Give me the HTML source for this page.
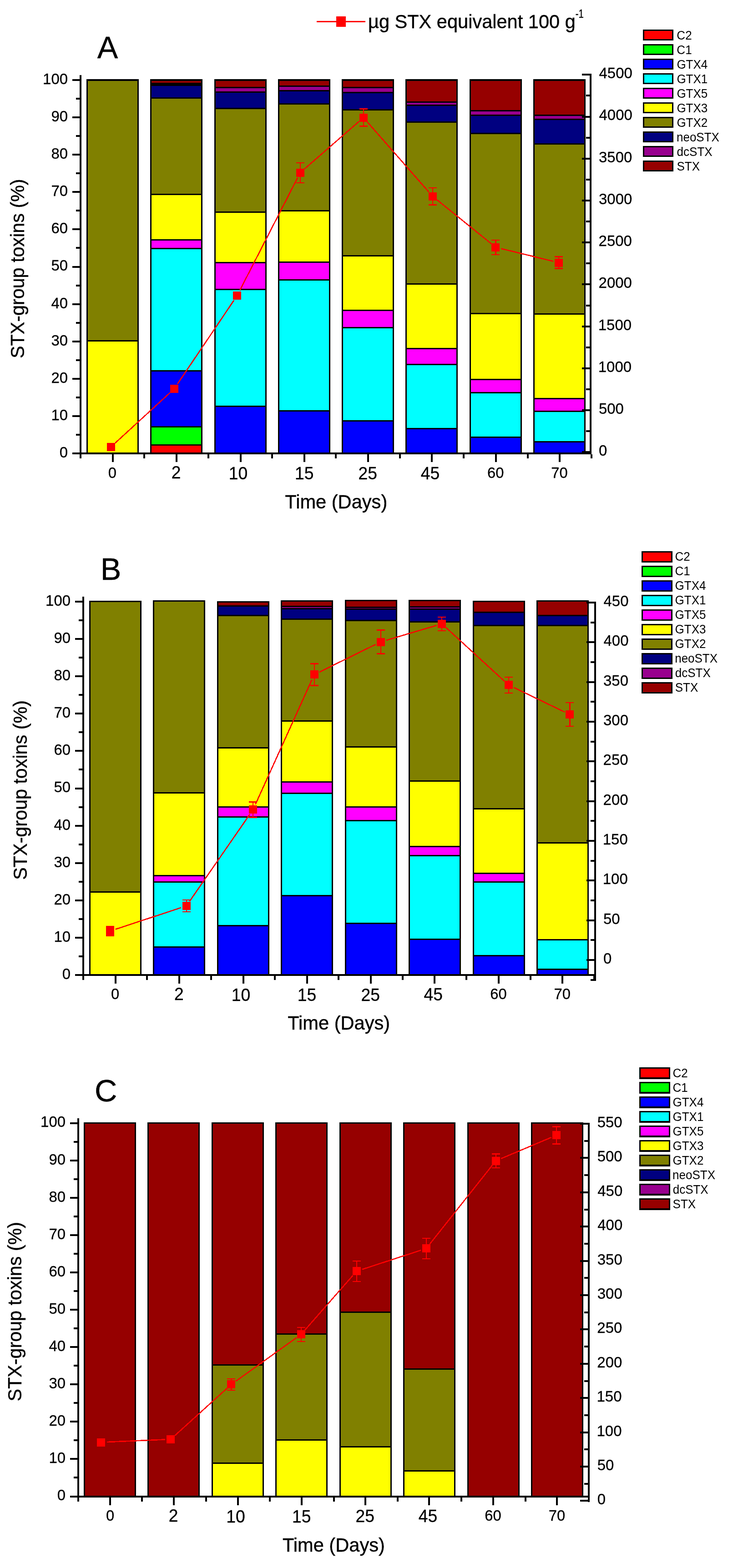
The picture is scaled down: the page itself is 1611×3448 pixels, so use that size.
<!DOCTYPE html>
<html lang="en">
<head>
<meta charset="utf-8">
<title>STX-group toxins</title>
<style>
html,body{margin:0;padding:0;background:#fff;}
body{width:1611px;height:3448px;overflow:hidden;}
svg{display:block;}
svg text{font-family:"Liberation Sans",Arial,sans-serif;fill:#000;}
svg rect,svg line{shape-rendering:crispEdges;}
</style>
</head>
<body>
<svg width="1611" height="3448" viewBox="0 0 1611 3448">
<rect x="0" y="0" width="1611" height="3448" fill="#ffffff"/>
<rect x="190" y="174" width="115" height="823" fill="#000"/>
<rect x="193" y="750.9" width="109" height="244.1" fill="#ffff00"/>
<rect x="193" y="178" width="109" height="569.9" fill="#808000"/>
<rect x="330" y="174" width="115" height="823" fill="#000"/>
<rect x="333" y="980.2" width="109" height="14.8" fill="#ff0000"/>
<rect x="333" y="940.3" width="109" height="36.9" fill="#00ff00"/>
<rect x="333" y="817.2" width="109" height="120.1" fill="#0000ff"/>
<rect x="333" y="547.7" width="109" height="266.5" fill="#00ffff"/>
<rect x="333" y="528.7" width="109" height="16" fill="#ff00ff"/>
<rect x="333" y="428.6" width="109" height="97.1" fill="#ffff00"/>
<rect x="333" y="216.8" width="109" height="208.8" fill="#808000"/>
<rect x="333" y="188.9" width="109" height="24.9" fill="#000080"/>
<rect x="333" y="178" width="109" height="4" fill="#960000"/>
<rect x="471" y="174" width="115" height="823" fill="#000"/>
<rect x="474" y="894.5" width="109" height="100.5" fill="#0000ff"/>
<rect x="474" y="637.8" width="109" height="253.7" fill="#00ffff"/>
<rect x="474" y="579.1" width="109" height="55.7" fill="#ff00ff"/>
<rect x="474" y="467.5" width="109" height="108.6" fill="#ffff00"/>
<rect x="474" y="239.7" width="109" height="224.8" fill="#808000"/>
<rect x="474" y="204.3" width="109" height="32.4" fill="#000080"/>
<rect x="474" y="194.4" width="109" height="6.9" fill="#98008e"/>
<rect x="474" y="178" width="109" height="13.4" fill="#960000"/>
<rect x="611" y="174" width="115" height="823" fill="#000"/>
<rect x="614" y="904.5" width="109" height="90.5" fill="#0000ff"/>
<rect x="614" y="617.4" width="109" height="284.1" fill="#00ffff"/>
<rect x="614" y="577.5" width="109" height="36.9" fill="#ff00ff"/>
<rect x="614" y="464.5" width="109" height="110" fill="#ffff00"/>
<rect x="614" y="229.7" width="109" height="231.8" fill="#808000"/>
<rect x="614" y="200.9" width="109" height="25.8" fill="#000080"/>
<rect x="614" y="190.7" width="109" height="7.2" fill="#98008e"/>
<rect x="614" y="178" width="109" height="9.7" fill="#960000"/>
<rect x="751" y="174" width="115" height="823" fill="#000"/>
<rect x="754" y="926.8" width="109" height="68.2" fill="#0000ff"/>
<rect x="754" y="722" width="109" height="201.8" fill="#00ffff"/>
<rect x="754" y="683.7" width="109" height="35.3" fill="#ff00ff"/>
<rect x="754" y="563.6" width="109" height="117.1" fill="#ffff00"/>
<rect x="754" y="242.7" width="109" height="317.9" fill="#808000"/>
<rect x="754" y="205.3" width="109" height="34.4" fill="#000080"/>
<rect x="754" y="194.4" width="109" height="7.9" fill="#98008e"/>
<rect x="754" y="178" width="109" height="13.4" fill="#960000"/>
<rect x="891" y="174" width="115" height="823" fill="#000"/>
<rect x="894" y="944.3" width="109" height="50.7" fill="#0000ff"/>
<rect x="894" y="802.8" width="109" height="138.5" fill="#00ffff"/>
<rect x="894" y="767.9" width="109" height="31.9" fill="#ff00ff"/>
<rect x="894" y="625.9" width="109" height="139" fill="#ffff00"/>
<rect x="894" y="269.6" width="109" height="353.3" fill="#808000"/>
<rect x="894" y="232.7" width="109" height="33.9" fill="#000080"/>
<rect x="894" y="226.3" width="109" height="3.4" fill="#98008e"/>
<rect x="894" y="178" width="109" height="45.3" fill="#960000"/>
<rect x="1032" y="174" width="115" height="823" fill="#000"/>
<rect x="1035" y="963.2" width="109" height="31.8" fill="#0000ff"/>
<rect x="1035" y="864.5" width="109" height="95.7" fill="#00ffff"/>
<rect x="1035" y="836.1" width="109" height="25.4" fill="#ff00ff"/>
<rect x="1035" y="690.6" width="109" height="142.5" fill="#ffff00"/>
<rect x="1035" y="295" width="109" height="392.6" fill="#808000"/>
<rect x="1035" y="254.7" width="109" height="37.3" fill="#000080"/>
<rect x="1035" y="244.7" width="109" height="7" fill="#98008e"/>
<rect x="1035" y="178" width="109" height="63.7" fill="#960000"/>
<rect x="1172" y="174" width="115" height="823" fill="#000"/>
<rect x="1175" y="973.2" width="109" height="21.8" fill="#0000ff"/>
<rect x="1175" y="906.4" width="109" height="63.8" fill="#00ffff"/>
<rect x="1175" y="877.5" width="109" height="25.9" fill="#ff00ff"/>
<rect x="1175" y="692.1" width="109" height="182.4" fill="#ffff00"/>
<rect x="1175" y="318.4" width="109" height="370.7" fill="#808000"/>
<rect x="1175" y="263.6" width="109" height="51.8" fill="#000080"/>
<rect x="1175" y="254.7" width="109" height="5.9" fill="#98008e"/>
<rect x="1175" y="178" width="109" height="73.7" fill="#960000"/>
<rect x="175" y="165" width="4" height="842.6" fill="#000"/>
<rect x="159" y="995" width="16" height="4" fill="#000"/>
<text transform="translate(130.74 1005.90) scale(1 1.03)" font-size="33" stroke="#000" stroke-width="0.3">0</text>
<rect x="167" y="953.95" width="8" height="4" fill="#000"/>
<rect x="159" y="912.9" width="16" height="4" fill="#000"/>
<text transform="translate(112.39 923.80) scale(1 1.03)" font-size="33" stroke="#000" stroke-width="0.3">10</text>
<rect x="167" y="871.85" width="8" height="4" fill="#000"/>
<rect x="159" y="830.8" width="16" height="4" fill="#000"/>
<text transform="translate(112.39 841.70) scale(1 1.03)" font-size="33" stroke="#000" stroke-width="0.3">20</text>
<rect x="167" y="789.75" width="8" height="4" fill="#000"/>
<rect x="159" y="748.7" width="16" height="4" fill="#000"/>
<text transform="translate(112.39 759.60) scale(1 1.03)" font-size="33" stroke="#000" stroke-width="0.3">30</text>
<rect x="167" y="707.65" width="8" height="4" fill="#000"/>
<rect x="159" y="666.6" width="16" height="4" fill="#000"/>
<text transform="translate(112.39 677.50) scale(1 1.03)" font-size="33" stroke="#000" stroke-width="0.3">40</text>
<rect x="167" y="625.55" width="8" height="4" fill="#000"/>
<rect x="159" y="584.5" width="16" height="4" fill="#000"/>
<text transform="translate(112.39 595.40) scale(1 1.03)" font-size="33" stroke="#000" stroke-width="0.3">50</text>
<rect x="167" y="543.45" width="8" height="4" fill="#000"/>
<rect x="159" y="502.4" width="16" height="4" fill="#000"/>
<text transform="translate(112.39 513.30) scale(1 1.03)" font-size="33" stroke="#000" stroke-width="0.3">60</text>
<rect x="167" y="461.35" width="8" height="4" fill="#000"/>
<rect x="159" y="420.3" width="16" height="4" fill="#000"/>
<text transform="translate(112.39 431.20) scale(1 1.03)" font-size="33" stroke="#000" stroke-width="0.3">70</text>
<rect x="167" y="379.25" width="8" height="4" fill="#000"/>
<rect x="159" y="338.2" width="16" height="4" fill="#000"/>
<text transform="translate(112.39 349.10) scale(1 1.03)" font-size="33" stroke="#000" stroke-width="0.3">80</text>
<rect x="167" y="297.15" width="8" height="4" fill="#000"/>
<rect x="159" y="256.1" width="16" height="4" fill="#000"/>
<text transform="translate(112.39 267.00) scale(1 1.03)" font-size="33" stroke="#000" stroke-width="0.3">90</text>
<rect x="167" y="215.05" width="8" height="4" fill="#000"/>
<rect x="159" y="174" width="16" height="4" fill="#000"/>
<text transform="translate(94.04 184.90) scale(1 1.03)" font-size="33" stroke="#000" stroke-width="0.3">100</text>
<rect x="159" y="995" width="1141" height="4" fill="#000"/>
<rect x="246" y="999" width="4" height="17" fill="#000"/>
<text transform="translate(237.68 1051.40) scale(1 1.02)" font-size="32.8" stroke="#000" stroke-width="0.3">0</text>
<rect x="386" y="999" width="4" height="17" fill="#000"/>
<text transform="translate(376.83 1052.20) scale(1 1.02)" font-size="37.3" stroke="#000" stroke-width="0.3">2</text>
<rect x="527" y="999" width="4" height="17" fill="#000"/>
<text transform="translate(502.67 1053.50) scale(1 1.02)" font-size="37.3" stroke="#000" stroke-width="0.3">10</text>
<rect x="667" y="999" width="4" height="17" fill="#000"/>
<text transform="translate(647.93 1054.40) scale(1 1.02)" font-size="37.3" stroke="#000" stroke-width="0.3">15</text>
<rect x="807" y="999" width="4" height="17" fill="#000"/>
<text transform="translate(787.46 1053.50) scale(1 1.02)" font-size="37.3" stroke="#000" stroke-width="0.3">25</text>
<rect x="947" y="999" width="4" height="17" fill="#000"/>
<text transform="translate(924.87 1053.70) scale(1 1.02)" font-size="37.3" stroke="#000" stroke-width="0.3">45</text>
<rect x="1088" y="999" width="4" height="17" fill="#000"/>
<text transform="translate(1071.02 1051.40) scale(1 1.02)" font-size="32.8" stroke="#000" stroke-width="0.3">60</text>
<rect x="1228" y="999" width="4" height="17" fill="#000"/>
<text transform="translate(1211.27 1051.40) scale(1 1.02)" font-size="32.8" stroke="#000" stroke-width="0.3">70</text>
<rect x="175" y="999" width="4" height="9" fill="#000"/>
<rect x="315" y="999" width="4" height="9" fill="#000"/>
<rect x="456" y="999" width="4" height="9" fill="#000"/>
<rect x="596" y="999" width="4" height="9" fill="#000"/>
<rect x="736" y="999" width="4" height="9" fill="#000"/>
<rect x="877" y="999" width="4" height="9" fill="#000"/>
<rect x="1017" y="999" width="4" height="9" fill="#000"/>
<rect x="1158" y="999" width="4" height="9" fill="#000"/>
<rect x="1298" y="999" width="4" height="9" fill="#000"/>
<text transform="translate(626.28 1117.80) scale(1.008 1.02)" font-size="41.3" stroke="#000" stroke-width="0.4">Time (Days)</text>
<text transform="translate(52.90 788.06) rotate(-90) scale(1 1.02)" font-size="41.3" stroke="#000" stroke-width="0.4">STX-group toxins (%)</text>
<rect x="1296" y="162" width="4" height="837" fill="#000"/>
<rect x="1279" y="992" width="17" height="4" fill="#000"/>
<text transform="translate(1315.91 1002.20) scale(1 1.03)" font-size="33" stroke="#000" stroke-width="0.3">0</text>
<rect x="1288" y="946" width="8" height="4" fill="#000"/>
<rect x="1279" y="900" width="17" height="4" fill="#000"/>
<text transform="translate(1315.88 909.98) scale(1 1.03)" font-size="33" stroke="#000" stroke-width="0.3">500</text>
<rect x="1288" y="854" width="8" height="4" fill="#000"/>
<rect x="1279" y="808" width="17" height="4" fill="#000"/>
<text transform="translate(1314.69 817.76) scale(1 1.03)" font-size="33" stroke="#000" stroke-width="0.3">1000</text>
<rect x="1288" y="762" width="8" height="4" fill="#000"/>
<rect x="1279" y="716" width="17" height="4" fill="#000"/>
<text transform="translate(1314.69 725.54) scale(1 1.03)" font-size="33" stroke="#000" stroke-width="0.3">1500</text>
<rect x="1288" y="670" width="8" height="4" fill="#000"/>
<rect x="1279" y="623" width="17" height="4" fill="#000"/>
<text transform="translate(1315.55 633.32) scale(1 1.03)" font-size="33" stroke="#000" stroke-width="0.3">2000</text>
<rect x="1288" y="577" width="8" height="4" fill="#000"/>
<rect x="1279" y="531" width="17" height="4" fill="#000"/>
<text transform="translate(1315.55 541.10) scale(1 1.03)" font-size="33" stroke="#000" stroke-width="0.3">2500</text>
<rect x="1288" y="485" width="8" height="4" fill="#000"/>
<rect x="1279" y="439" width="17" height="4" fill="#000"/>
<text transform="translate(1315.95 448.88) scale(1 1.03)" font-size="33" stroke="#000" stroke-width="0.3">3000</text>
<rect x="1288" y="393" width="8" height="4" fill="#000"/>
<rect x="1279" y="347" width="17" height="4" fill="#000"/>
<text transform="translate(1315.95 356.66) scale(1 1.03)" font-size="33" stroke="#000" stroke-width="0.3">3500</text>
<rect x="1288" y="301" width="8" height="4" fill="#000"/>
<rect x="1279" y="255" width="17" height="4" fill="#000"/>
<text transform="translate(1316.44 264.44) scale(1 1.03)" font-size="33" stroke="#000" stroke-width="0.3">4000</text>
<rect x="1288" y="208" width="8" height="4" fill="#000"/>
<rect x="1279" y="162" width="17" height="4" fill="#000"/>
<text transform="translate(1316.44 172.22) scale(1 1.03)" font-size="33" stroke="#000" stroke-width="0.3">4500</text>
<line x1="253.2" y1="974.2" x2="373.6" y2="863.6" stroke="#ff0000" stroke-width="2.6"/>
<line x1="389.8" y1="844.7" x2="514.3" y2="660.2" stroke="#ff0000" stroke-width="2.6"/>
<line x1="527.0" y1="638.7" x2="654.1" y2="390.8" stroke="#ff0000" stroke-width="2.6"/>
<line x1="669.2" y1="371.5" x2="789.4" y2="266.8" stroke="#ff0000" stroke-width="2.6"/>
<line x1="807.1" y1="268.0" x2="942.5" y2="422.2" stroke="#ff0000" stroke-width="2.6"/>
<line x1="960.5" y1="439.5" x2="1079.6" y2="535.8" stroke="#ff0000" stroke-width="2.6"/>
<line x1="1101.4" y1="546.7" x2="1215.8" y2="574.6" stroke="#ff0000" stroke-width="2.6"/>
<rect x="235" y="973.7" width="18" height="18" fill="#ff0000"/>
<rect x="373.8" y="846.1" width="18" height="18" fill="#ff0000"/>
<rect x="512.3" y="640.8" width="18" height="18" fill="#ff0000"/>
<rect x="658.6" y="357.7" width="2.4" height="44" fill="#ff0000"/>
<rect x="650.8" y="356.5" width="18" height="2.4" fill="#ff0000"/>
<rect x="650.8" y="400.5" width="18" height="2.4" fill="#ff0000"/>
<rect x="650.8" y="370.7" width="18" height="18" fill="#ff0000"/>
<rect x="797.6" y="239.6" width="2.4" height="38" fill="#ff0000"/>
<rect x="789.8" y="238.4" width="18" height="2.4" fill="#ff0000"/>
<rect x="789.8" y="276.4" width="18" height="2.4" fill="#ff0000"/>
<rect x="789.8" y="249.6" width="18" height="18" fill="#ff0000"/>
<rect x="949.6" y="412.9" width="2.4" height="37.4" fill="#ff0000"/>
<rect x="941.8" y="411.7" width="18" height="2.4" fill="#ff0000"/>
<rect x="941.8" y="449.1" width="18" height="2.4" fill="#ff0000"/>
<rect x="941.8" y="422.6" width="18" height="18" fill="#ff0000"/>
<rect x="1088.1" y="527.7" width="2.4" height="32" fill="#ff0000"/>
<rect x="1080.3" y="526.5" width="18" height="2.4" fill="#ff0000"/>
<rect x="1080.3" y="558.5" width="18" height="2.4" fill="#ff0000"/>
<rect x="1080.3" y="534.7" width="18" height="18" fill="#ff0000"/>
<rect x="1226.7" y="564.6" width="2.4" height="26" fill="#ff0000"/>
<rect x="1218.9" y="563.4" width="18" height="2.4" fill="#ff0000"/>
<rect x="1218.9" y="589.4" width="18" height="2.4" fill="#ff0000"/>
<rect x="1218.9" y="568.6" width="18" height="18" fill="#ff0000"/>
<rect x="1413" y="65" width="67" height="24" fill="#000"/>
<rect x="1416" y="68" width="61" height="18" fill="#ff0000"/>
<text transform="translate(1487.37 87.20) scale(1 1.03)" font-size="26">C2</text>
<rect x="1413" y="97" width="67" height="24" fill="#000"/>
<rect x="1416" y="100" width="61" height="18" fill="#00ff00"/>
<text transform="translate(1487.37 119.20) scale(1 1.03)" font-size="26">C1</text>
<rect x="1413" y="129" width="67" height="24" fill="#000"/>
<rect x="1416" y="132" width="61" height="18" fill="#0000ff"/>
<text transform="translate(1487.40 151.20) scale(1 1.03)" font-size="26">GTX4</text>
<rect x="1413" y="161" width="67" height="24" fill="#000"/>
<rect x="1416" y="164" width="61" height="18" fill="#00ffff"/>
<text transform="translate(1487.40 183.20) scale(1 1.03)" font-size="26">GTX1</text>
<rect x="1413" y="193" width="67" height="24" fill="#000"/>
<rect x="1416" y="196" width="61" height="18" fill="#ff00ff"/>
<text transform="translate(1487.40 215.20) scale(1 1.03)" font-size="26">GTX5</text>
<rect x="1413" y="225" width="67" height="24" fill="#000"/>
<rect x="1416" y="228" width="61" height="18" fill="#ffff00"/>
<text transform="translate(1487.40 247.20) scale(1 1.03)" font-size="26">GTX3</text>
<rect x="1413" y="257" width="67" height="24" fill="#000"/>
<rect x="1416" y="260" width="61" height="18" fill="#808000"/>
<text transform="translate(1487.40 279.20) scale(1 1.03)" font-size="26">GTX2</text>
<rect x="1413" y="289" width="67" height="24" fill="#000"/>
<rect x="1416" y="292" width="61" height="18" fill="#000080"/>
<text transform="translate(1486.98 311.20) scale(1 1.03)" font-size="26">neoSTX</text>
<rect x="1413" y="321" width="67" height="24" fill="#000"/>
<rect x="1416" y="324" width="61" height="18" fill="#98008e"/>
<text transform="translate(1487.61 343.20) scale(1 1.03)" font-size="26">dcSTX</text>
<rect x="1413" y="353" width="67" height="24" fill="#000"/>
<rect x="1416" y="356" width="61" height="18" fill="#960000"/>
<text transform="translate(1487.50 375.20) scale(1 1.03)" font-size="26">STX</text>
<text transform="translate(213.81 128.00) scale(1.02 1.02)" font-size="67" stroke="#000" stroke-width="0.4">A</text>
<rect x="196" y="1321" width="115" height="823" fill="#000"/>
<rect x="199" y="1963.2" width="109" height="178.8" fill="#ffff00"/>
<rect x="199" y="1324" width="109" height="636.2" fill="#808000"/>
<rect x="336" y="1320" width="115" height="824" fill="#000"/>
<rect x="339" y="2084.3" width="109" height="57.7" fill="#0000ff"/>
<rect x="339" y="1940.8" width="109" height="140.5" fill="#00ffff"/>
<rect x="339" y="1927.3" width="109" height="10.5" fill="#ff00ff"/>
<rect x="339" y="1745.4" width="109" height="178.9" fill="#ffff00"/>
<rect x="339" y="1323" width="109" height="419.4" fill="#808000"/>
<rect x="477" y="1322" width="115" height="822" fill="#000"/>
<rect x="480" y="2036.5" width="109" height="105.5" fill="#0000ff"/>
<rect x="480" y="1797.7" width="109" height="235.8" fill="#00ffff"/>
<rect x="480" y="1776.3" width="109" height="18.4" fill="#ff00ff"/>
<rect x="480" y="1645.8" width="109" height="127.5" fill="#ffff00"/>
<rect x="480" y="1355.3" width="109" height="287.5" fill="#808000"/>
<rect x="480" y="1334.4" width="109" height="17.9" fill="#000080"/>
<rect x="480" y="1325" width="109" height="6.4" fill="#960000"/>
<rect x="617" y="1320" width="115" height="824" fill="#000"/>
<rect x="620" y="1970.7" width="109" height="171.3" fill="#0000ff"/>
<rect x="620" y="1746.4" width="109" height="221.3" fill="#00ffff"/>
<rect x="620" y="1721.1" width="109" height="22.3" fill="#ff00ff"/>
<rect x="620" y="1587" width="109" height="131.1" fill="#ffff00"/>
<rect x="620" y="1363.2" width="109" height="220.8" fill="#808000"/>
<rect x="620" y="1340.1" width="109" height="20.1" fill="#000080"/>
<rect x="620" y="1334.8" width="109" height="2.3" fill="#98008e"/>
<rect x="620" y="1323" width="109" height="8.8" fill="#960000"/>
<rect x="758" y="1319" width="115" height="825" fill="#000"/>
<rect x="761" y="2031.5" width="109" height="110.5" fill="#0000ff"/>
<rect x="761" y="1805.7" width="109" height="222.8" fill="#00ffff"/>
<rect x="761" y="1776.3" width="109" height="26.4" fill="#ff00ff"/>
<rect x="761" y="1643.8" width="109" height="129.5" fill="#ffff00"/>
<rect x="761" y="1366.2" width="109" height="274.6" fill="#808000"/>
<rect x="761" y="1341.1" width="109" height="22.1" fill="#000080"/>
<rect x="761" y="1336.6" width="109" height="1.5" fill="#98008e"/>
<rect x="761" y="1322" width="109" height="11.6" fill="#960000"/>
<rect x="898" y="1319" width="115" height="825" fill="#000"/>
<rect x="901" y="2067.3" width="109" height="74.7" fill="#0000ff"/>
<rect x="901" y="1882.5" width="109" height="181.8" fill="#00ffff"/>
<rect x="901" y="1862.5" width="109" height="17" fill="#ff00ff"/>
<rect x="901" y="1719.1" width="109" height="140.4" fill="#ffff00"/>
<rect x="901" y="1369" width="109" height="347.1" fill="#808000"/>
<rect x="901" y="1341.1" width="109" height="24.9" fill="#000080"/>
<rect x="901" y="1335.7" width="109" height="2.4" fill="#98008e"/>
<rect x="901" y="1322" width="109" height="10.7" fill="#960000"/>
<rect x="1039" y="1321" width="115" height="823" fill="#000"/>
<rect x="1042" y="2102.7" width="109" height="39.3" fill="#0000ff"/>
<rect x="1042" y="1940.8" width="109" height="158.9" fill="#00ffff"/>
<rect x="1042" y="1921.8" width="109" height="16" fill="#ff00ff"/>
<rect x="1042" y="1779.8" width="109" height="139" fill="#ffff00"/>
<rect x="1042" y="1377.2" width="109" height="399.6" fill="#808000"/>
<rect x="1042" y="1348" width="109" height="26.2" fill="#000080"/>
<rect x="1042" y="1324" width="109" height="21" fill="#960000"/>
<rect x="1179" y="1320" width="115" height="824" fill="#000"/>
<rect x="1182" y="2132.6" width="109" height="9.4" fill="#0000ff"/>
<rect x="1182" y="2067.8" width="109" height="61.8" fill="#00ffff"/>
<rect x="1182" y="1854.6" width="109" height="210.2" fill="#ffff00"/>
<rect x="1182" y="1377.2" width="109" height="474.4" fill="#808000"/>
<rect x="1182" y="1355" width="109" height="19.2" fill="#000080"/>
<rect x="1182" y="1323" width="109" height="29" fill="#960000"/>
<rect x="181" y="1312" width="4" height="842.6" fill="#000"/>
<rect x="165" y="2142" width="16" height="4" fill="#000"/>
<text transform="translate(136.74 2152.90) scale(1 1.03)" font-size="33" stroke="#000" stroke-width="0.3">0</text>
<rect x="173" y="2100.95" width="8" height="4" fill="#000"/>
<rect x="165" y="2059.9" width="16" height="4" fill="#000"/>
<text transform="translate(118.39 2070.80) scale(1 1.03)" font-size="33" stroke="#000" stroke-width="0.3">10</text>
<rect x="173" y="2018.85" width="8" height="4" fill="#000"/>
<rect x="165" y="1977.8" width="16" height="4" fill="#000"/>
<text transform="translate(118.39 1988.70) scale(1 1.03)" font-size="33" stroke="#000" stroke-width="0.3">20</text>
<rect x="173" y="1936.75" width="8" height="4" fill="#000"/>
<rect x="165" y="1895.7" width="16" height="4" fill="#000"/>
<text transform="translate(118.39 1906.60) scale(1 1.03)" font-size="33" stroke="#000" stroke-width="0.3">30</text>
<rect x="173" y="1854.65" width="8" height="4" fill="#000"/>
<rect x="165" y="1813.6" width="16" height="4" fill="#000"/>
<text transform="translate(118.39 1824.50) scale(1 1.03)" font-size="33" stroke="#000" stroke-width="0.3">40</text>
<rect x="173" y="1772.55" width="8" height="4" fill="#000"/>
<rect x="165" y="1731.5" width="16" height="4" fill="#000"/>
<text transform="translate(118.39 1742.40) scale(1 1.03)" font-size="33" stroke="#000" stroke-width="0.3">50</text>
<rect x="173" y="1690.45" width="8" height="4" fill="#000"/>
<rect x="165" y="1649.4" width="16" height="4" fill="#000"/>
<text transform="translate(118.39 1660.30) scale(1 1.03)" font-size="33" stroke="#000" stroke-width="0.3">60</text>
<rect x="173" y="1608.35" width="8" height="4" fill="#000"/>
<rect x="165" y="1567.3" width="16" height="4" fill="#000"/>
<text transform="translate(118.39 1578.20) scale(1 1.03)" font-size="33" stroke="#000" stroke-width="0.3">70</text>
<rect x="173" y="1526.25" width="8" height="4" fill="#000"/>
<rect x="165" y="1485.2" width="16" height="4" fill="#000"/>
<text transform="translate(118.39 1496.10) scale(1 1.03)" font-size="33" stroke="#000" stroke-width="0.3">80</text>
<rect x="173" y="1444.15" width="8" height="4" fill="#000"/>
<rect x="165" y="1403.1" width="16" height="4" fill="#000"/>
<text transform="translate(118.39 1414.00) scale(1 1.03)" font-size="33" stroke="#000" stroke-width="0.3">90</text>
<rect x="173" y="1362.05" width="8" height="4" fill="#000"/>
<rect x="165" y="1321" width="16" height="4" fill="#000"/>
<text transform="translate(100.04 1331.90) scale(1 1.03)" font-size="33" stroke="#000" stroke-width="0.3">100</text>
<rect x="165" y="2142" width="1145" height="4" fill="#000"/>
<rect x="252" y="2146" width="4" height="17" fill="#000"/>
<text transform="translate(243.98 2197.40) scale(1 1.02)" font-size="32.8" stroke="#000" stroke-width="0.3">0</text>
<rect x="392" y="2146" width="4" height="17" fill="#000"/>
<text transform="translate(382.98 2199.30) scale(1 1.02)" font-size="37.3" stroke="#000" stroke-width="0.3">2</text>
<rect x="533" y="2146" width="4" height="17" fill="#000"/>
<text transform="translate(508.67 2200.80) scale(1 1.02)" font-size="37.3" stroke="#000" stroke-width="0.3">10</text>
<rect x="673" y="2146" width="4" height="17" fill="#000"/>
<text transform="translate(653.73 2200.80) scale(1 1.02)" font-size="37.3" stroke="#000" stroke-width="0.3">15</text>
<rect x="813" y="2146" width="4" height="17" fill="#000"/>
<text transform="translate(793.61 2200.80) scale(1 1.02)" font-size="37.3" stroke="#000" stroke-width="0.3">25</text>
<rect x="953" y="2146" width="4" height="17" fill="#000"/>
<text transform="translate(931.52 2199.60) scale(1 1.02)" font-size="37.3" stroke="#000" stroke-width="0.3">45</text>
<rect x="1094" y="2146" width="4" height="17" fill="#000"/>
<text transform="translate(1077.17 2197.40) scale(1 1.02)" font-size="32.8" stroke="#000" stroke-width="0.3">60</text>
<rect x="1234" y="2146" width="4" height="17" fill="#000"/>
<text transform="translate(1217.57 2197.40) scale(1 1.02)" font-size="32.8" stroke="#000" stroke-width="0.3">70</text>
<rect x="181" y="2146" width="4" height="9" fill="#000"/>
<rect x="321" y="2146" width="4" height="9" fill="#000"/>
<rect x="462" y="2146" width="4" height="9" fill="#000"/>
<rect x="602" y="2146" width="4" height="9" fill="#000"/>
<rect x="742" y="2146" width="4" height="9" fill="#000"/>
<rect x="883" y="2146" width="4" height="9" fill="#000"/>
<rect x="1023" y="2146" width="4" height="9" fill="#000"/>
<rect x="1164" y="2146" width="4" height="9" fill="#000"/>
<rect x="1304" y="2146" width="4" height="9" fill="#000"/>
<text transform="translate(632.18 2264.40) scale(1.008 1.02)" font-size="41.3" stroke="#000" stroke-width="0.4">Time (Days)</text>
<text transform="translate(58.90 1934.76) rotate(-90) scale(1 1.02)" font-size="41.3" stroke="#000" stroke-width="0.4">STX-group toxins (%)</text>
<rect x="1306" y="1323" width="4" height="834" fill="#000"/>
<rect x="1298" y="2153" width="8" height="4" fill="#000"/>
<rect x="1289" y="2109" width="17" height="4" fill="#000"/>
<text transform="translate(1325.91 2118.90) scale(1 1.03)" font-size="33" stroke="#000" stroke-width="0.3">0</text>
<rect x="1298" y="2065" width="8" height="4" fill="#000"/>
<rect x="1289" y="2022" width="17" height="4" fill="#000"/>
<text transform="translate(1325.88 2031.57) scale(1 1.03)" font-size="33" stroke="#000" stroke-width="0.3">50</text>
<rect x="1298" y="1978" width="8" height="4" fill="#000"/>
<rect x="1289" y="1934" width="17" height="4" fill="#000"/>
<text transform="translate(1324.69 1944.24) scale(1 1.03)" font-size="33" stroke="#000" stroke-width="0.3">100</text>
<rect x="1298" y="1891" width="8" height="4" fill="#000"/>
<rect x="1289" y="1847" width="17" height="4" fill="#000"/>
<text transform="translate(1324.69 1856.91) scale(1 1.03)" font-size="33" stroke="#000" stroke-width="0.3">150</text>
<rect x="1298" y="1803" width="8" height="4" fill="#000"/>
<rect x="1289" y="1760" width="17" height="4" fill="#000"/>
<text transform="translate(1325.55 1769.58) scale(1 1.03)" font-size="33" stroke="#000" stroke-width="0.3">200</text>
<rect x="1298" y="1716" width="8" height="4" fill="#000"/>
<rect x="1289" y="1672" width="17" height="4" fill="#000"/>
<text transform="translate(1325.55 1682.25) scale(1 1.03)" font-size="33" stroke="#000" stroke-width="0.3">250</text>
<rect x="1298" y="1629" width="8" height="4" fill="#000"/>
<rect x="1289" y="1585" width="17" height="4" fill="#000"/>
<text transform="translate(1325.95 1594.92) scale(1 1.03)" font-size="33" stroke="#000" stroke-width="0.3">300</text>
<rect x="1298" y="1541" width="8" height="4" fill="#000"/>
<rect x="1289" y="1498" width="17" height="4" fill="#000"/>
<text transform="translate(1325.95 1507.59) scale(1 1.03)" font-size="33" stroke="#000" stroke-width="0.3">350</text>
<rect x="1298" y="1454" width="8" height="4" fill="#000"/>
<rect x="1289" y="1410" width="17" height="4" fill="#000"/>
<text transform="translate(1326.44 1420.26) scale(1 1.03)" font-size="33" stroke="#000" stroke-width="0.3">400</text>
<rect x="1298" y="1367" width="8" height="4" fill="#000"/>
<rect x="1289" y="1323" width="17" height="4" fill="#000"/>
<text transform="translate(1326.44 1332.93) scale(1 1.03)" font-size="33" stroke="#000" stroke-width="0.3">450</text>
<line x1="253.6" y1="2043.5" x2="397.8" y2="1996.0" stroke="#ff0000" stroke-width="2.6"/>
<line x1="416.8" y1="1981.8" x2="549.1" y2="1790.6" stroke="#ff0000" stroke-width="2.6"/>
<line x1="561.4" y1="1768.9" x2="685.5" y2="1494.8" stroke="#ff0000" stroke-width="2.6"/>
<line x1="701.9" y1="1477.9" x2="825.5" y2="1417.1" stroke="#ff0000" stroke-width="2.6"/>
<line x1="848.7" y1="1408.0" x2="959.2" y2="1375.3" stroke="#ff0000" stroke-width="2.6"/>
<line x1="980.4" y1="1380.2" x2="1108.5" y2="1497.8" stroke="#ff0000" stroke-width="2.6"/>
<line x1="1129.0" y1="1511.7" x2="1241.0" y2="1565.7" stroke="#ff0000" stroke-width="2.6"/>
<rect x="240.5" y="2037.4" width="2.4" height="20" fill="#ff0000"/>
<rect x="232.7" y="2036.2" width="18" height="2.4" fill="#ff0000"/>
<rect x="232.7" y="2056.2" width="18" height="2.4" fill="#ff0000"/>
<rect x="232.7" y="2038.4" width="18" height="18" fill="#ff0000"/>
<rect x="408.5" y="1979.1" width="2.4" height="26" fill="#ff0000"/>
<rect x="400.7" y="1977.9" width="18" height="2.4" fill="#ff0000"/>
<rect x="400.7" y="2003.9" width="18" height="2.4" fill="#ff0000"/>
<rect x="400.7" y="1983.1" width="18" height="18" fill="#ff0000"/>
<rect x="555" y="1763.3" width="2.4" height="34" fill="#ff0000"/>
<rect x="547.2" y="1762.1" width="18" height="2.4" fill="#ff0000"/>
<rect x="547.2" y="1796.1" width="18" height="2.4" fill="#ff0000"/>
<rect x="547.2" y="1771.3" width="18" height="18" fill="#ff0000"/>
<rect x="689.5" y="1459.4" width="2.4" height="48" fill="#ff0000"/>
<rect x="681.7" y="1458.2" width="18" height="2.4" fill="#ff0000"/>
<rect x="681.7" y="1506.2" width="18" height="2.4" fill="#ff0000"/>
<rect x="681.7" y="1474.4" width="18" height="18" fill="#ff0000"/>
<rect x="835.5" y="1385.6" width="2.4" height="52" fill="#ff0000"/>
<rect x="827.7" y="1384.4" width="18" height="2.4" fill="#ff0000"/>
<rect x="827.7" y="1436.4" width="18" height="2.4" fill="#ff0000"/>
<rect x="827.7" y="1402.6" width="18" height="18" fill="#ff0000"/>
<rect x="970" y="1356.7" width="2.4" height="30" fill="#ff0000"/>
<rect x="962.2" y="1355.5" width="18" height="2.4" fill="#ff0000"/>
<rect x="962.2" y="1385.5" width="18" height="2.4" fill="#ff0000"/>
<rect x="962.2" y="1362.7" width="18" height="18" fill="#ff0000"/>
<rect x="1116.5" y="1488.8" width="2.4" height="35" fill="#ff0000"/>
<rect x="1108.7" y="1487.6" width="18" height="2.4" fill="#ff0000"/>
<rect x="1108.7" y="1522.6" width="18" height="2.4" fill="#ff0000"/>
<rect x="1108.7" y="1497.3" width="18" height="18" fill="#ff0000"/>
<rect x="1251.1" y="1545.1" width="2.4" height="52" fill="#ff0000"/>
<rect x="1243.3" y="1543.9" width="18" height="2.4" fill="#ff0000"/>
<rect x="1243.3" y="1595.9" width="18" height="2.4" fill="#ff0000"/>
<rect x="1243.3" y="1562.1" width="18" height="18" fill="#ff0000"/>
<rect x="1410" y="1212" width="68" height="25" fill="#000"/>
<rect x="1413" y="1215" width="62" height="19" fill="#ff0000"/>
<text transform="translate(1483.57 1233.40) scale(1 1.03)" font-size="26">C2</text>
<rect x="1410" y="1244" width="68" height="25" fill="#000"/>
<rect x="1413" y="1247" width="62" height="19" fill="#00ff00"/>
<text transform="translate(1483.57 1265.40) scale(1 1.03)" font-size="26">C1</text>
<rect x="1410" y="1276" width="68" height="25" fill="#000"/>
<rect x="1413" y="1279" width="62" height="19" fill="#0000ff"/>
<text transform="translate(1483.60 1297.40) scale(1 1.03)" font-size="26">GTX4</text>
<rect x="1410" y="1308" width="68" height="25" fill="#000"/>
<rect x="1413" y="1311" width="62" height="19" fill="#00ffff"/>
<text transform="translate(1483.60 1329.40) scale(1 1.03)" font-size="26">GTX1</text>
<rect x="1410" y="1340" width="68" height="25" fill="#000"/>
<rect x="1413" y="1343" width="62" height="19" fill="#ff00ff"/>
<text transform="translate(1483.60 1361.40) scale(1 1.03)" font-size="26">GTX5</text>
<rect x="1410" y="1372" width="68" height="25" fill="#000"/>
<rect x="1413" y="1375" width="62" height="19" fill="#ffff00"/>
<text transform="translate(1483.60 1393.40) scale(1 1.03)" font-size="26">GTX3</text>
<rect x="1410" y="1404" width="68" height="25" fill="#000"/>
<rect x="1413" y="1407" width="62" height="19" fill="#808000"/>
<text transform="translate(1483.60 1425.40) scale(1 1.03)" font-size="26">GTX2</text>
<rect x="1410" y="1436" width="68" height="25" fill="#000"/>
<rect x="1413" y="1439" width="62" height="19" fill="#000080"/>
<text transform="translate(1483.18 1457.40) scale(1 1.03)" font-size="26">neoSTX</text>
<rect x="1410" y="1468" width="68" height="25" fill="#000"/>
<rect x="1413" y="1471" width="62" height="19" fill="#98008e"/>
<text transform="translate(1483.81 1489.40) scale(1 1.03)" font-size="26">dcSTX</text>
<rect x="1410" y="1500" width="68" height="25" fill="#000"/>
<rect x="1413" y="1503" width="62" height="19" fill="#960000"/>
<text transform="translate(1483.70 1521.40) scale(1 1.03)" font-size="26">STX</text>
<text transform="translate(220.72 1275.00) scale(1.02 1.02)" font-size="67" stroke="#000" stroke-width="0.4">B</text>
<rect x="184" y="2468" width="115" height="822.5" fill="#000"/>
<rect x="187" y="2471" width="109" height="817.5" fill="#960000"/>
<rect x="324" y="2468" width="115" height="822.5" fill="#000"/>
<rect x="327" y="2471" width="109" height="817.5" fill="#960000"/>
<rect x="465" y="2468" width="115" height="822.5" fill="#000"/>
<rect x="468" y="3219.3" width="109" height="69.2" fill="#ffff00"/>
<rect x="468" y="3002.5" width="109" height="213.8" fill="#808000"/>
<rect x="468" y="2471" width="109" height="528.5" fill="#960000"/>
<rect x="605" y="2468" width="115" height="822.5" fill="#000"/>
<rect x="608" y="3167.5" width="109" height="121" fill="#ffff00"/>
<rect x="608" y="2934.8" width="109" height="229.7" fill="#808000"/>
<rect x="608" y="2471" width="109" height="460.8" fill="#960000"/>
<rect x="746" y="2468" width="115" height="822.5" fill="#000"/>
<rect x="749" y="3182.9" width="109" height="105.6" fill="#ffff00"/>
<rect x="749" y="2887.4" width="109" height="292.5" fill="#808000"/>
<rect x="749" y="2471" width="109" height="413.4" fill="#960000"/>
<rect x="886" y="2468" width="115" height="822.5" fill="#000"/>
<rect x="889" y="3236.2" width="109" height="52.3" fill="#ffff00"/>
<rect x="889" y="3012" width="109" height="221.2" fill="#808000"/>
<rect x="889" y="2471" width="109" height="538" fill="#960000"/>
<rect x="1027" y="2468" width="115" height="822.5" fill="#000"/>
<rect x="1030" y="2471" width="109" height="817.5" fill="#960000"/>
<rect x="1167" y="2468" width="115" height="822.5" fill="#000"/>
<rect x="1170" y="2471" width="109" height="817.5" fill="#960000"/>
<rect x="170" y="2458.5" width="4" height="842.6" fill="#000"/>
<rect x="154" y="3288.5" width="16" height="4" fill="#000"/>
<text transform="translate(125.74 3299.40) scale(1 1.03)" font-size="33" stroke="#000" stroke-width="0.3">0</text>
<rect x="162" y="3247.45" width="8" height="4" fill="#000"/>
<rect x="154" y="3206.4" width="16" height="4" fill="#000"/>
<text transform="translate(107.39 3217.30) scale(1 1.03)" font-size="33" stroke="#000" stroke-width="0.3">10</text>
<rect x="162" y="3165.35" width="8" height="4" fill="#000"/>
<rect x="154" y="3124.3" width="16" height="4" fill="#000"/>
<text transform="translate(107.39 3135.20) scale(1 1.03)" font-size="33" stroke="#000" stroke-width="0.3">20</text>
<rect x="162" y="3083.25" width="8" height="4" fill="#000"/>
<rect x="154" y="3042.2" width="16" height="4" fill="#000"/>
<text transform="translate(107.39 3053.10) scale(1 1.03)" font-size="33" stroke="#000" stroke-width="0.3">30</text>
<rect x="162" y="3001.15" width="8" height="4" fill="#000"/>
<rect x="154" y="2960.1" width="16" height="4" fill="#000"/>
<text transform="translate(107.39 2971.00) scale(1 1.03)" font-size="33" stroke="#000" stroke-width="0.3">40</text>
<rect x="162" y="2919.05" width="8" height="4" fill="#000"/>
<rect x="154" y="2878" width="16" height="4" fill="#000"/>
<text transform="translate(107.39 2888.90) scale(1 1.03)" font-size="33" stroke="#000" stroke-width="0.3">50</text>
<rect x="162" y="2836.95" width="8" height="4" fill="#000"/>
<rect x="154" y="2795.9" width="16" height="4" fill="#000"/>
<text transform="translate(107.39 2806.80) scale(1 1.03)" font-size="33" stroke="#000" stroke-width="0.3">60</text>
<rect x="162" y="2754.85" width="8" height="4" fill="#000"/>
<rect x="154" y="2713.8" width="16" height="4" fill="#000"/>
<text transform="translate(107.39 2724.70) scale(1 1.03)" font-size="33" stroke="#000" stroke-width="0.3">70</text>
<rect x="162" y="2672.75" width="8" height="4" fill="#000"/>
<rect x="154" y="2631.7" width="16" height="4" fill="#000"/>
<text transform="translate(107.39 2642.60) scale(1 1.03)" font-size="33" stroke="#000" stroke-width="0.3">80</text>
<rect x="162" y="2590.65" width="8" height="4" fill="#000"/>
<rect x="154" y="2549.6" width="16" height="4" fill="#000"/>
<text transform="translate(107.39 2560.50) scale(1 1.03)" font-size="33" stroke="#000" stroke-width="0.3">90</text>
<rect x="162" y="2508.55" width="8" height="4" fill="#000"/>
<rect x="154" y="2467.5" width="16" height="4" fill="#000"/>
<text transform="translate(89.04 2478.40) scale(1 1.03)" font-size="33" stroke="#000" stroke-width="0.3">100</text>
<rect x="154" y="3288.5" width="1142" height="4" fill="#000"/>
<rect x="240" y="3292.5" width="4" height="17" fill="#000"/>
<text transform="translate(232.88 3344.40) scale(1 1.02)" font-size="32.8" stroke="#000" stroke-width="0.3">0</text>
<rect x="380" y="3292.5" width="4" height="17" fill="#000"/>
<text transform="translate(370.68 3346.10) scale(1 1.02)" font-size="37.3" stroke="#000" stroke-width="0.3">2</text>
<rect x="521" y="3292.5" width="4" height="17" fill="#000"/>
<text transform="translate(497.17 3347.80) scale(1 1.02)" font-size="37.3" stroke="#000" stroke-width="0.3">10</text>
<rect x="661" y="3292.5" width="4" height="17" fill="#000"/>
<text transform="translate(641.98 3348.40) scale(1 1.02)" font-size="37.3" stroke="#000" stroke-width="0.3">15</text>
<rect x="801" y="3292.5" width="4" height="17" fill="#000"/>
<text transform="translate(781.61 3347.40) scale(1 1.02)" font-size="37.3" stroke="#000" stroke-width="0.3">25</text>
<rect x="941" y="3292.5" width="4" height="17" fill="#000"/>
<text transform="translate(919.82 3347.00) scale(1 1.02)" font-size="37.3" stroke="#000" stroke-width="0.3">45</text>
<rect x="1082" y="3292.5" width="4" height="17" fill="#000"/>
<text transform="translate(1065.17 3344.40) scale(1 1.02)" font-size="32.8" stroke="#000" stroke-width="0.3">60</text>
<rect x="1222" y="3292.5" width="4" height="17" fill="#000"/>
<text transform="translate(1205.72 3344.40) scale(1 1.02)" font-size="32.8" stroke="#000" stroke-width="0.3">70</text>
<rect x="170" y="3292.5" width="4" height="9" fill="#000"/>
<rect x="310" y="3292.5" width="4" height="9" fill="#000"/>
<rect x="451" y="3292.5" width="4" height="9" fill="#000"/>
<rect x="591" y="3292.5" width="4" height="9" fill="#000"/>
<rect x="732" y="3292.5" width="4" height="9" fill="#000"/>
<rect x="872" y="3292.5" width="4" height="9" fill="#000"/>
<rect x="1012" y="3292.5" width="4" height="9" fill="#000"/>
<rect x="1153" y="3292.5" width="4" height="9" fill="#000"/>
<rect x="1292" y="3292.5" width="4" height="9" fill="#000"/>
<text transform="translate(620.88 3412.00) scale(1.008 1.02)" font-size="41.3" stroke="#000" stroke-width="0.4">Time (Days)</text>
<text transform="translate(47.00 3081.56) rotate(-90) scale(1 1.02)" font-size="41.3" stroke="#000" stroke-width="0.4">STX-group toxins (%)</text>
<rect x="1292" y="2469" width="4" height="834" fill="#000"/>
<rect x="1275" y="3298" width="17" height="4" fill="#000"/>
<text transform="translate(1312.71 3308.40) scale(1 1.03)" font-size="33" stroke="#000" stroke-width="0.3">0</text>
<rect x="1284" y="3261" width="8" height="4" fill="#000"/>
<rect x="1275" y="3223" width="17" height="4" fill="#000"/>
<text transform="translate(1312.68 3232.99) scale(1 1.03)" font-size="33" stroke="#000" stroke-width="0.3">50</text>
<rect x="1284" y="3185" width="8" height="4" fill="#000"/>
<rect x="1275" y="3148" width="17" height="4" fill="#000"/>
<text transform="translate(1311.49 3157.58) scale(1 1.03)" font-size="33" stroke="#000" stroke-width="0.3">100</text>
<rect x="1284" y="3110" width="8" height="4" fill="#000"/>
<rect x="1275" y="3072" width="17" height="4" fill="#000"/>
<text transform="translate(1311.49 3082.17) scale(1 1.03)" font-size="33" stroke="#000" stroke-width="0.3">150</text>
<rect x="1284" y="3035" width="8" height="4" fill="#000"/>
<rect x="1275" y="2997" width="17" height="4" fill="#000"/>
<text transform="translate(1312.35 3006.76) scale(1 1.03)" font-size="33" stroke="#000" stroke-width="0.3">200</text>
<rect x="1284" y="2959" width="8" height="4" fill="#000"/>
<rect x="1275" y="2921" width="17" height="4" fill="#000"/>
<text transform="translate(1312.35 2931.35) scale(1 1.03)" font-size="33" stroke="#000" stroke-width="0.3">250</text>
<rect x="1284" y="2884" width="8" height="4" fill="#000"/>
<rect x="1275" y="2846" width="17" height="4" fill="#000"/>
<text transform="translate(1312.75 2855.94) scale(1 1.03)" font-size="33" stroke="#000" stroke-width="0.3">300</text>
<rect x="1284" y="2808" width="8" height="4" fill="#000"/>
<rect x="1275" y="2771" width="17" height="4" fill="#000"/>
<text transform="translate(1312.75 2780.53) scale(1 1.03)" font-size="33" stroke="#000" stroke-width="0.3">350</text>
<rect x="1284" y="2733" width="8" height="4" fill="#000"/>
<rect x="1275" y="2695" width="17" height="4" fill="#000"/>
<text transform="translate(1313.24 2705.12) scale(1 1.03)" font-size="33" stroke="#000" stroke-width="0.3">400</text>
<rect x="1284" y="2658" width="8" height="4" fill="#000"/>
<rect x="1275" y="2620" width="17" height="4" fill="#000"/>
<text transform="translate(1313.24 2629.71) scale(1 1.03)" font-size="33" stroke="#000" stroke-width="0.3">450</text>
<rect x="1284" y="2582" width="8" height="4" fill="#000"/>
<rect x="1275" y="2544" width="17" height="4" fill="#000"/>
<text transform="translate(1312.68 2554.30) scale(1 1.03)" font-size="33" stroke="#000" stroke-width="0.3">500</text>
<rect x="1284" y="2507" width="8" height="4" fill="#000"/>
<rect x="1275" y="2469" width="17" height="4" fill="#000"/>
<text transform="translate(1312.68 2478.89) scale(1 1.03)" font-size="33" stroke="#000" stroke-width="0.3">550</text>
<line x1="234.8" y1="3171.0" x2="362.7" y2="3165.5" stroke="#ff0000" stroke-width="2.6"/>
<line x1="384.5" y1="3156.6" x2="499.0" y2="3052.8" stroke="#ff0000" stroke-width="2.6"/>
<line x1="518.5" y1="3037.1" x2="651.6" y2="2941.6" stroke="#ff0000" stroke-width="2.6"/>
<line x1="670.0" y1="2924.9" x2="775.6" y2="2804.7" stroke="#ff0000" stroke-width="2.6"/>
<line x1="795.7" y1="2791.4" x2="924.9" y2="2749.3" stroke="#ff0000" stroke-width="2.6"/>
<line x1="944.6" y1="2735.6" x2="1082.0" y2="2562.4" stroke="#ff0000" stroke-width="2.6"/>
<line x1="1101.3" y1="2547.7" x2="1211.4" y2="2501.2" stroke="#ff0000" stroke-width="2.6"/>
<rect x="213.3" y="3162.5" width="18" height="18" fill="#ff0000"/>
<rect x="366.2" y="3156" width="18" height="18" fill="#ff0000"/>
<rect x="507.1" y="3031.7" width="2.4" height="25.4" fill="#ff0000"/>
<rect x="499.3" y="3030.5" width="18" height="2.4" fill="#ff0000"/>
<rect x="499.3" y="3055.9" width="18" height="2.4" fill="#ff0000"/>
<rect x="499.3" y="3035.4" width="18" height="18" fill="#ff0000"/>
<rect x="660.6" y="2918.9" width="2.4" height="30.8" fill="#ff0000"/>
<rect x="652.8" y="2917.7" width="18" height="2.4" fill="#ff0000"/>
<rect x="652.8" y="2948.5" width="18" height="2.4" fill="#ff0000"/>
<rect x="652.8" y="2925.3" width="18" height="18" fill="#ff0000"/>
<rect x="782.6" y="2772.9" width="2.4" height="44.8" fill="#ff0000"/>
<rect x="774.8" y="2771.7" width="18" height="2.4" fill="#ff0000"/>
<rect x="774.8" y="2816.5" width="18" height="2.4" fill="#ff0000"/>
<rect x="774.8" y="2786.3" width="18" height="18" fill="#ff0000"/>
<rect x="935.6" y="2723" width="2.4" height="44.8" fill="#ff0000"/>
<rect x="927.8" y="2721.8" width="18" height="2.4" fill="#ff0000"/>
<rect x="927.8" y="2766.6" width="18" height="2.4" fill="#ff0000"/>
<rect x="927.8" y="2736.4" width="18" height="18" fill="#ff0000"/>
<rect x="1088.6" y="2537.4" width="2.4" height="30.4" fill="#ff0000"/>
<rect x="1080.8" y="2536.2" width="18" height="2.4" fill="#ff0000"/>
<rect x="1080.8" y="2566.6" width="18" height="2.4" fill="#ff0000"/>
<rect x="1080.8" y="2543.6" width="18" height="18" fill="#ff0000"/>
<rect x="1221.7" y="2477.3" width="2.4" height="38" fill="#ff0000"/>
<rect x="1213.9" y="2476.1" width="18" height="2.4" fill="#ff0000"/>
<rect x="1213.9" y="2514.1" width="18" height="2.4" fill="#ff0000"/>
<rect x="1213.9" y="2487.3" width="18" height="18" fill="#ff0000"/>
<rect x="1405" y="2347" width="68" height="26" fill="#000"/>
<rect x="1408" y="2350" width="62" height="19" fill="#ff0000"/>
<text transform="translate(1478.47 2369.30) scale(1 1.03)" font-size="26">C2</text>
<rect x="1405" y="2379" width="68" height="26" fill="#000"/>
<rect x="1408" y="2382" width="62" height="19" fill="#00ff00"/>
<text transform="translate(1478.47 2401.30) scale(1 1.03)" font-size="26">C1</text>
<rect x="1405" y="2411" width="68" height="26" fill="#000"/>
<rect x="1408" y="2414" width="62" height="19" fill="#0000ff"/>
<text transform="translate(1478.50 2433.30) scale(1 1.03)" font-size="26">GTX4</text>
<rect x="1405" y="2443" width="68" height="26" fill="#000"/>
<rect x="1408" y="2446" width="62" height="19" fill="#00ffff"/>
<text transform="translate(1478.50 2465.30) scale(1 1.03)" font-size="26">GTX1</text>
<rect x="1405" y="2475" width="68" height="26" fill="#000"/>
<rect x="1408" y="2478" width="62" height="19" fill="#ff00ff"/>
<text transform="translate(1478.50 2497.30) scale(1 1.03)" font-size="26">GTX5</text>
<rect x="1405" y="2507" width="68" height="26" fill="#000"/>
<rect x="1408" y="2510" width="62" height="19" fill="#ffff00"/>
<text transform="translate(1478.50 2529.30) scale(1 1.03)" font-size="26">GTX3</text>
<rect x="1405" y="2539" width="68" height="26" fill="#000"/>
<rect x="1408" y="2542" width="62" height="19" fill="#808000"/>
<text transform="translate(1478.50 2561.30) scale(1 1.03)" font-size="26">GTX2</text>
<rect x="1405" y="2571" width="68" height="26" fill="#000"/>
<rect x="1408" y="2574" width="62" height="19" fill="#000080"/>
<text transform="translate(1478.08 2593.30) scale(1 1.03)" font-size="26">neoSTX</text>
<rect x="1405" y="2603" width="68" height="26" fill="#000"/>
<rect x="1408" y="2606" width="62" height="19" fill="#98008e"/>
<text transform="translate(1478.71 2625.30) scale(1 1.03)" font-size="26">dcSTX</text>
<rect x="1405" y="2635" width="68" height="26" fill="#000"/>
<rect x="1408" y="2638" width="62" height="19" fill="#960000"/>
<text transform="translate(1478.60 2657.30) scale(1 1.03)" font-size="26">STX</text>
<text transform="translate(208.09 2422.20) scale(1.02 1.02)" font-size="67" stroke="#000" stroke-width="0.4">C</text>
<rect x="696" y="46" width="107" height="3" fill="#ff0000"/>
<rect x="739" y="36" width="21" height="23" fill="#ff0000"/>
<text transform="translate(808.97 61.60) scale(1.006 1.02)" font-size="41.3" stroke="#000" stroke-width="0.4">µg STX equivalent 100 g</text>
<text transform="translate(1264.70 38.50) scale(0.84 1.02)" font-size="24.4" stroke="#000" stroke-width="0.3">-1</text>
</svg>
</body>
</html>
